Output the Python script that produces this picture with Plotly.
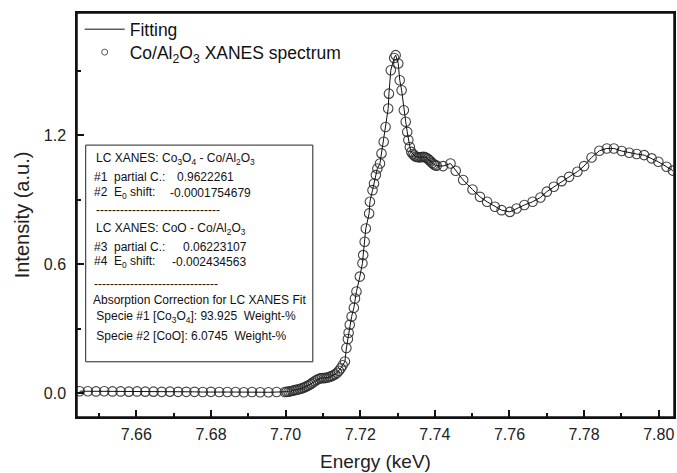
import plotly.graph_objects as go

# ---------------- data ----------------
energy_kev = [
    7.6448, 7.6470, 7.6492, 7.6514, 7.6536, 7.6558, 7.6580, 7.6602, 7.6624, 7.6646,
    7.6668, 7.6690, 7.6712, 7.6734, 7.6756, 7.6778, 7.6800, 7.6822, 7.6844, 7.6866,
    7.6888, 7.6910, 7.6932, 7.6954, 7.6976, 7.6998,
    7.7003, 7.7008, 7.7013, 7.7018, 7.7023, 7.7028, 7.7033, 7.7038, 7.7043, 7.7048,
    7.7053, 7.7058, 7.7063, 7.7068, 7.7073, 7.7078, 7.7083, 7.7088, 7.7093, 7.7098,
    7.7103, 7.7108, 7.7113, 7.7118, 7.7123, 7.7128, 7.7133, 7.7138, 7.7143, 7.7148,
    7.7153,
    7.7159, 7.7163, 7.7167, 7.7169, 7.7172, 7.7177, 7.7183, 7.7186, 7.7190, 7.7199,
    7.7206, 7.7208, 7.7212, 7.7215, 7.7224, 7.7226, 7.7233, 7.7237, 7.7242, 7.7246,
    7.7253, 7.7257, 7.7263, 7.7268, 7.7275, 7.7277, 7.7282, 7.7291, 7.7295, 7.7302,
    7.7306, 7.7311, 7.7317, 7.7322, 7.7326, 7.7329, 7.7333, 7.7337,
    7.7341, 7.7345, 7.7349, 7.7353, 7.7357, 7.7361, 7.7365, 7.7369, 7.7373, 7.7377,
    7.7381, 7.7385, 7.7389, 7.7393, 7.7397, 7.7401, 7.7405,
    7.7422, 7.7442, 7.7456, 7.7476, 7.7501, 7.7521, 7.7540, 7.7561, 7.7579, 7.7601,
    7.7619, 7.7640, 7.7662, 7.7683, 7.7700, 7.7719, 7.7740, 7.7760, 7.7782, 7.7800,
    7.7820, 7.7841, 7.7861, 7.7880, 7.7901, 7.7921, 7.7941, 7.7961, 7.7981, 7.7999,
    7.8021, 7.8038,
]

spectrum_intensity = [
    0.009, 0.009, 0.008, 0.009, 0.008, 0.008, 0.007, 0.008, 0.007, 0.007,
    0.006, 0.007, 0.006, 0.006, 0.006, 0.005, 0.006, 0.005, 0.005, 0.005,
    0.004, 0.005, 0.004, 0.004, 0.005, 0.005,
    0.006, 0.007, 0.009, 0.011, 0.013, 0.015, 0.017, 0.019, 0.022, 0.025,
    0.029, 0.033, 0.038, 0.043, 0.049, 0.055, 0.061, 0.066, 0.069, 0.070,
    0.070, 0.071, 0.073, 0.076, 0.079, 0.083, 0.088, 0.095, 0.104, 0.116,
    0.130,
    0.147, 0.210, 0.252, 0.281, 0.318, 0.356, 0.397, 0.440, 0.473, 0.542,
    0.604, 0.642, 0.704, 0.766, 0.836, 0.890, 0.944, 0.975, 1.014, 1.045,
    1.068, 1.115, 1.169, 1.238, 1.324, 1.393, 1.502, 1.559, 1.572, 1.533,
    1.455, 1.409, 1.316, 1.262, 1.215, 1.177, 1.145, 1.122,
    1.112, 1.105, 1.100, 1.098, 1.097, 1.097, 1.098, 1.099, 1.098, 1.095,
    1.090, 1.084, 1.077, 1.070, 1.064, 1.060, 1.058,
    1.056, 1.068, 1.034, 0.991, 0.947, 0.913, 0.890, 0.867, 0.851, 0.843,
    0.859, 0.875, 0.890, 0.910, 0.937, 0.960, 0.986, 1.006, 1.030, 1.056,
    1.096, 1.127, 1.138, 1.138, 1.126, 1.118, 1.112, 1.107, 1.092, 1.076,
    1.053, 1.035,
]

# the fitted curve lies on top of the measured points
fit_intensity = list(spectrum_intensity)

x_tick_values = [7.66, 7.68, 7.70, 7.72, 7.74, 7.76, 7.78, 7.80]
x_tick_labels = ["7.66", "7.68", "7.70", "7.72", "7.74", "7.76", "7.78", "7.80"]
x_minor_values = [7.65, 7.67, 7.69, 7.71, 7.73, 7.75, 7.77, 7.79]
y_tick_values = [0.0, 0.6, 1.2]
y_tick_labels = ["0.0", "0.6", "1.2"]
y_minor_values = [0.3, 0.9, 1.5]

legend_names = ["Fitting", "Co/Al<sub>2</sub>O<sub>3</sub> XANES spectrum"]

box_lines = [
    ("LC XANES: Co<sub>3</sub>O<sub>4</sub> - Co/Al<sub>2</sub>O<sub>3</sub>", None),
    ("#1  partial C.:", "0.9622261"),
    ("#2  E<sub>0</sub> shift:", "-0.0001754679"),
    ("-" * 31, None),
    ("LC XANES: CoO - Co/Al<sub>2</sub>O<sub>3</sub>", None),
    ("#3  partial C.:", "0.06223107"),
    ("#4  E<sub>0</sub> shift:", "-0.002434563"),
    ("-" * 31, None),
    ("Absorption Correction for LC XANES Fit", None),
    (" Specie #1 [Co<sub>3</sub>O<sub>4</sub>]: 93.925  Weight-%", None),
    (" Specie #2 [CoO]: 6.0745  Weight-%", None),
]

# ---------------- layout helpers ----------------
FONT = "Liberation Sans, Arial, Helvetica, sans-serif"
W_PX, H_PX = 677, 473
L, R, T, B = 77.3, 674.0, 12.7, 417.3


def px(x):
    return (x - L) / (R - L)


def py(y):
    return (B - y) / (B - T)


fig = go.Figure()

fig.add_trace(go.Scatter(
    x=energy_kev, y=spectrum_intensity, mode="markers", showlegend=False,
    marker=dict(symbol="circle-open", size=9.5, color="rgba(45,45,45,0.9)",
                line=dict(width=1.1, color="rgba(45,45,45,0.9)")),
))
fig.add_trace(go.Scatter(
    x=energy_kev, y=fit_intensity, mode="lines", showlegend=False,
    line=dict(color="#111111", width=1),
))
# legend entries (each in its own legend box so the spacing matches)
fig.add_trace(go.Scatter(
    x=[None], y=[None], mode="lines", name=legend_names[0], legend="legend",
    line=dict(color="#111111", width=1),
))
fig.add_trace(go.Scatter(
    x=[None], y=[None], mode="markers", name=legend_names[1], legend="legend2",
    marker=dict(symbol="circle-open", size=6, color="#555555",
                line=dict(width=1, color="#555555")),
))

annotations = []
line_y = [159, 177, 193, 210, 229, 247, 262, 284, 300, 317, 336]
label_x = [94, 92, 92, 94, 94, 92, 92, 92, 91, 91, 91]
value_x = [None, 175, 168, None, None, 181, 170, None, None, None, None]
for (label, value), yy, lx, vx in zip(box_lines, line_y, label_x, value_x):
    annotations.append(dict(
        x=px(lx), y=py(yy), xref="paper", yref="paper", text=label,
        showarrow=False, xanchor="left", yanchor="middle",
        font=dict(family=FONT, size=12, color="#111111"),
    ))
    if value is not None:
        annotations.append(dict(
            x=px(vx), y=py(yy), xref="paper", yref="paper", text=value,
            showarrow=False, xanchor="left", yanchor="middle",
            font=dict(family=FONT, size=12, color="#111111"),
        ))

legend_style = dict(
    xanchor="left", yanchor="top", bgcolor="rgba(0,0,0,0)", borderwidth=0,
    font=dict(family=FONT, size=17.5, color="#111111"), itemwidth=40,
)

fig.update_layout(
    width=W_PX, height=H_PX,
    margin=dict(l=77, r=3, t=13, b=56, autoexpand=False),
    paper_bgcolor="white", plot_bgcolor="white",
    font=dict(family=FONT, size=16, color="#111111"),
    showlegend=True,
    legend=dict(x=px(80), y=py(11), **legend_style),
    legend2=dict(x=px(80), y=py(34), **legend_style),
    annotations=annotations,
    shapes=[
        dict(type="rect", xref="paper", yref="paper",
             x0=px(86), x1=px(313), y0=py(362), y1=py(145),
             line=dict(color="#222222", width=1), fillcolor="rgba(0,0,0,0)"),
        dict(type="rect", xref="paper", yref="paper",
             x0=0, x1=1, y0=0, y1=1,
             line=dict(color="#111111", width=1.5), fillcolor="rgba(0,0,0,0)"),
    ],
)

fig.update_xaxes(
    range=[7.6441, 7.8041], tickvals=x_tick_values, ticktext=x_tick_labels,
    ticks="inside", ticklen=7, tickwidth=1.5, tickcolor="#111111",
    minor=dict(tickvals=x_minor_values, ticks="inside", ticklen=4,
               tickwidth=1.5, tickcolor="#111111"),
    showline=True, linewidth=1.5, linecolor="#111111", mirror=True,
    showgrid=False, zeroline=False, ticklabelstandoff=2, automargin=False,
    tickfont=dict(family=FONT, size=16, color="#222222"),
    title=dict(text="Energy (keV)", font=dict(family=FONT, size=19, color="#222222"),
               standoff=13),
)
fig.update_yaxes(
    range=[-0.111, 1.768], tickvals=y_tick_values, ticktext=y_tick_labels,
    ticks="inside", ticklen=7, tickwidth=1.5, tickcolor="#111111",
    minor=dict(tickvals=y_minor_values, ticks="inside", ticklen=4,
               tickwidth=1.5, tickcolor="#111111"),
    showline=True, linewidth=1.5, linecolor="#111111", mirror=True,
    showgrid=False, zeroline=False, ticklabelstandoff=6, automargin=False,
    tickfont=dict(family=FONT, size=16, color="#222222"),
    title=dict(text="Intensity (a.u.)", font=dict(family=FONT, size=20, color="#222222"),
               standoff=9),
)

fig.write_html(
    "out.html",
    config={"displayModeBar": False},
    post_script="document.body.style.margin='0';document.body.style.overflow='hidden';",
)
